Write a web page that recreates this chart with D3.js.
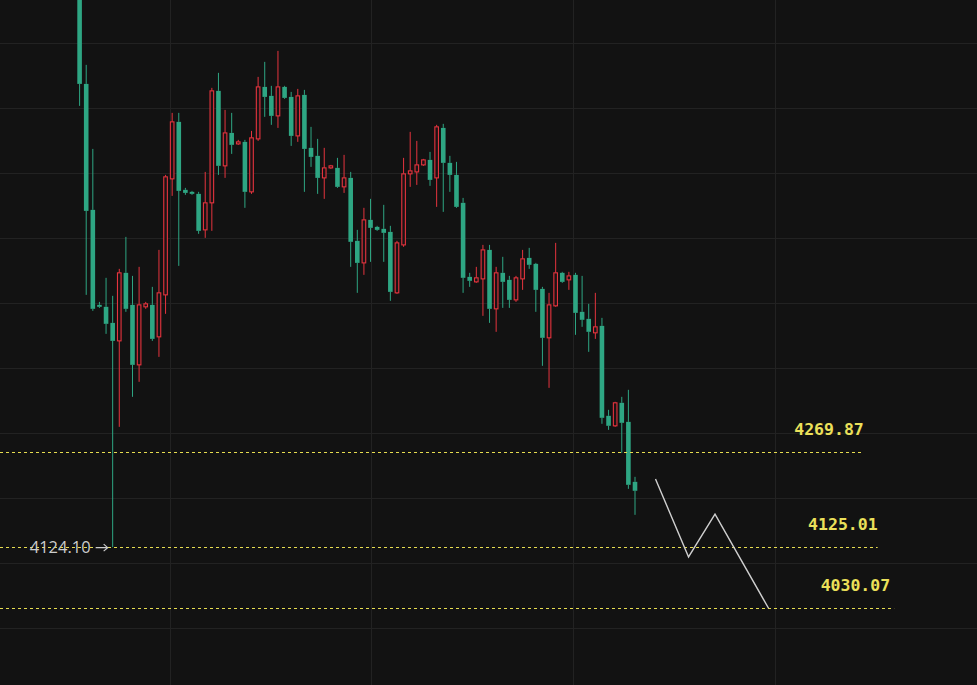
<!DOCTYPE html>
<html>
<head>
<meta charset="utf-8">
<script src="https://cdn.jsdelivr.net/npm/d3@7/dist/d3.min.js"></script>
<style>
  body { margin: 0; background: #121212; }
  svg { display: block; }
</style>
</head>
<body>
<svg id="chart" width="977" height="685"></svg>
<script>
// candles, oldest first (prices)
const OPEN = [4995, 4836.9, 4643.1, 4496.9, 4493.9, 4469.2, 4441.5, 4546.2, 4496.9, 4404.6,
  4493.9, 4496.9, 4447.7, 4512.3, 4690.8, 4778.5, 4673.9, 4670.8, 4667.7, 4612.3,
  4653.9, 4826.2, 4710.8, 4761.5, 4744.6, 4747.7, 4670.8, 4752.3, 4832.3, 4818.5,
  4787.7, 4832.3, 4816.9, 4756.9, 4820.0, 4738.5, 4726.2, 4692.3, 4707.7, 4707.7,
  4678.5, 4692.3, 4595.4, 4561.5, 4627.7, 4616.9, 4613.9, 4609.2, 4515.4, 4589.2,
  4698.5, 4701.5, 4712.3, 4720.0, 4692.3, 4769.2, 4715.4, 4696.9, 4653.9, 4540.0,
  4532.3, 4536.9, 4581.5, 4490.8, 4546.2, 4535.4, 4504.6, 4536.9, 4569.2, 4560.0,
  4521.5, 4446.2, 4495.4, 4546.2, 4535.4, 4543.1, 4486.2, 4475.4, 4453.9, 4464.6,
  4326.2, 4310.8, 4346.2, 4316.9, 4224.6]
const HIGH = [5002, 4866.2, 4736.9, 4501.5, 4538.5, 4510.8, 4552.3, 4601.5, 4541.5, 4555.4,
  4501.5, 4524.6, 4581.5, 4696.9, 4792.3, 4792.3, 4676.9, 4672.3, 4670.8, 4701.5,
  4830.8, 4853.9, 4796.9, 4792.3, 4750.8, 4750.8, 4764.6, 4847.7, 4870.8, 4833.9,
  4887.7, 4833.9, 4824.6, 4829.2, 4827.7, 4770.8, 4752.3, 4738.5, 4712.3, 4723.1,
  4727.7, 4701.5, 4612.3, 4646.2, 4660.0, 4618.5, 4650.8, 4618.5, 4595.4, 4723.1,
  4763.1, 4749.2, 4721.5, 4732.3, 4773.9, 4775.4, 4726.2, 4716.9, 4661.5, 4546.2,
  4555.4, 4589.2, 4589.2, 4555.4, 4570.8, 4541.5, 4541.5, 4581.5, 4584.6, 4561.5,
  4524.6, 4515.4, 4592.3, 4547.7, 4547.7, 4546.2, 4541.5, 4498.5, 4515.4, 4476.9,
  4335.4, 4347.7, 4355.4, 4366.2, 4232.3]
const LOW = [4803.1, 4512.3, 4487.7, 4492.3, 4452.3, 4124.1, 4309.2, 4486.2, 4355.4, 4378.5,
  4490.8, 4441.5, 4416.9, 4483.1, 4664.6, 4556.9, 4666.2, 4666.2, 4606.2, 4600.0,
  4610.8, 4696.9, 4692.3, 4729.2, 4743.1, 4646.2, 4667.7, 4749.2, 4786.2, 4773.9,
  4769.2, 4813.9, 4741.5, 4747.7, 4670.8, 4709.2, 4667.7, 4660.0, 4706.2, 4676.9,
  4669.2, 4555.4, 4515.4, 4543.1, 4563.1, 4610.8, 4563.1, 4503.1, 4513.9, 4586.2,
  4678.5, 4681.5, 4710.8, 4680.0, 4647.7, 4640.0, 4670.8, 4646.2, 4515.4, 4524.6,
  4530.8, 4480.0, 4469.2, 4455.4, 4492.3, 4492.3, 4501.5, 4520.0, 4552.3, 4486.2,
  4403.1, 4369.2, 4493.9, 4530.8, 4520.0, 4450.8, 4463.1, 4424.6, 4444.6, 4313.9,
  4304.6, 4309.2, 4269.2, 4213.8, 4173.8]
const CLOSE = [4836.9, 4641.5, 4490.8, 4493.9, 4467.7, 4441.5, 4546.2, 4490.8, 4404.6, 4496.9,
  4498.5, 4444.6, 4515.4, 4693.9, 4778.5, 4672.3, 4669.2, 4667.7, 4610.8, 4653.9,
  4826.2, 4710.8, 4761.5, 4743.1, 4747.7, 4670.8, 4753.9, 4832.3, 4816.9, 4787.7,
  4832.3, 4815.4, 4756.9, 4818.5, 4736.9, 4724.6, 4692.3, 4707.7, 4710.8, 4678.5,
  4692.3, 4593.9, 4561.5, 4627.7, 4615.4, 4612.3, 4607.7, 4516.9, 4592.3, 4698.5,
  4703.1, 4712.3, 4720.0, 4689.2, 4770.8, 4715.4, 4696.9, 4647.7, 4538.5, 4533.9,
  4538.5, 4581.5, 4490.8, 4546.2, 4532.3, 4504.6, 4538.5, 4567.7, 4558.5, 4520.0,
  4446.2, 4496.9, 4546.2, 4532.3, 4541.5, 4484.6, 4473.9, 4455.4, 4463.1, 4323.1,
  4310.8, 4346.2, 4315.4, 4220.0, 4210.8]

// horizontal levels and their labels
const LEVELS = [4269.87, 4125.01, 4030.07]
const LEVEL_LABELS = ['4269.87', '4125.01', '4030.07']
const LEVEL_END = [118.6, 120.7, 123.2] // in candle slots

// marked low
const LOW_MARK = 4124.10
const LOW_MARK_LABEL = '4124.10'

// projected path (candle slot, price)
const PATH_SLOT = [87.1, 92.1, 96.1, 104.2]
const PATH_PRICE = [4229, 4109, 4175, 4030.07]

// grid
const PRICE_GRID = d3.range(4000, 5000, 100)
const TIME_GRID = [13.7, 44.1, 74.6, 105.1]

const WIDTH = 977
const HEIGHT = 685
const UP = '#e5343e'
const DOWN = '#2ea683'
const BG = '#121212'

let chart = d3.select('#chart')

let x = d3.scaleLinear().domain([0, OPEN.length - 1]).range([79.6, 635])
let y = d3.scaleLinear().domain([3912, 4966]).range([HEIGHT, 0])
let bodyW = 4.6

chart.append('rect').attr('width', WIDTH).attr('height', HEIGHT).attr('fill', BG)

// grid lines
chart.append('g').selectAll('line')
  .data(PRICE_GRID)
  .enter()
  .append('line')
  .attr('x1', 0).attr('x2', WIDTH)
  .attr('y1', d => Math.round(y(d)) + 0.5).attr('y2', d => Math.round(y(d)) + 0.5)
  .attr('stroke', '#222222')

chart.append('g').selectAll('line')
  .data(TIME_GRID)
  .enter()
  .append('line')
  .attr('y1', 0).attr('y2', HEIGHT)
  .attr('x1', d => Math.round(x(d)) + 0.5).attr('x2', d => Math.round(x(d)) + 0.5)
  .attr('stroke', '#222222')

// candles
let candles = OPEN.map((o, i) => ({ i, o, h: HIGH[i], l: LOW[i], c: CLOSE[i], up: CLOSE[i] > o }))

let block = chart.append('g').selectAll('g')
  .data(candles)
  .enter()
  .append('g')
  .attr('transform', d => `translate(${x(d.i)}, 0)`)

// wick above and below the body
block.append('line')
  .attr('x1', 0).attr('x2', 0)
  .attr('y1', d => y(d.h))
  .attr('y2', d => y(Math.max(d.o, d.c)))
  .attr('stroke', d => d.up ? UP : DOWN)
  .attr('stroke-width', 1)
block.append('line')
  .attr('x1', 0).attr('x2', 0)
  .attr('y1', d => y(Math.min(d.o, d.c)))
  .attr('y2', d => y(d.l))
  .attr('stroke', d => d.up ? UP : DOWN)
  .attr('stroke-width', 1)

// body: hollow for rising candles, filled for falling
block.append('rect')
  .attr('x', d => d.up ? -bodyW / 2 + 0.5 : -bodyW / 2)
  .attr('width', d => d.up ? bodyW - 1 : bodyW)
  .attr('y', d => y(Math.max(d.o, d.c)))
  .attr('height', d => Math.max(1.5, y(Math.min(d.o, d.c)) - y(Math.max(d.o, d.c))))
  .attr('fill', d => d.up ? '#1c1214' : DOWN)
  .attr('stroke', d => d.up ? UP : 'none')
  .attr('stroke-width', 1.1)

// dashed levels
let levels = chart.append('g').selectAll('g')
  .data(LEVELS)
  .enter()
  .append('g')

levels.append('line')
  .attr('x1', 0)
  .attr('x2', (d, i) => x(LEVEL_END[i]))
  .attr('y1', d => Math.round(y(d)) + 0.5)
  .attr('y2', d => Math.round(y(d)) + 0.5)
  .attr('stroke', '#e6dc50')
  .attr('stroke-width', 1)
  .attr('stroke-dasharray', '3,3')

levels.append('text')
  .attr('x', (d, i) => x(LEVEL_END[i]) - (i === 2 ? 4 : 0))
  .attr('y', d => y(d) - 17)
  .attr('text-anchor', 'end')
  .attr('font-family', '"DejaVu Sans Mono", monospace')
  .attr('font-weight', 'bold')
  .attr('font-size', '16.5px')
  .attr('fill', '#ebe05a')
  .text((d, i) => LEVEL_LABELS[i])

// low marker label with arrow
let mark = chart.append('g')
  .attr('transform', `translate(${x(5)}, ${y(LOW_MARK)})`)

mark.append('text')
  .attr('x', -22)
  .attr('dy', '0.35em')
  .attr('text-anchor', 'end')
  .attr('font-family', '"Open Sans", "Liberation Sans", sans-serif')
  .attr('font-size', '16.5px')
  .attr('fill', '#cccccc')
  .text(LOW_MARK_LABEL)

mark.append('path')
  .attr('d', 'M-17,0.5 H-5 M-9,-3 L-5,0.5 L-9,4')
  .attr('fill', 'none')
  .attr('stroke', '#cccccc')
  .attr('stroke-width', 1.2)

// projected zigzag
let path = d3.line()
  .x((d, i) => x(PATH_SLOT[i]))
  .y(d => y(d))

chart.append('path')
  .attr('d', path(PATH_PRICE))
  .attr('fill', 'none')
  .attr('stroke', '#cfcfcf')
  .attr('stroke-width', 1.4)
</script>
</body>
</html>
